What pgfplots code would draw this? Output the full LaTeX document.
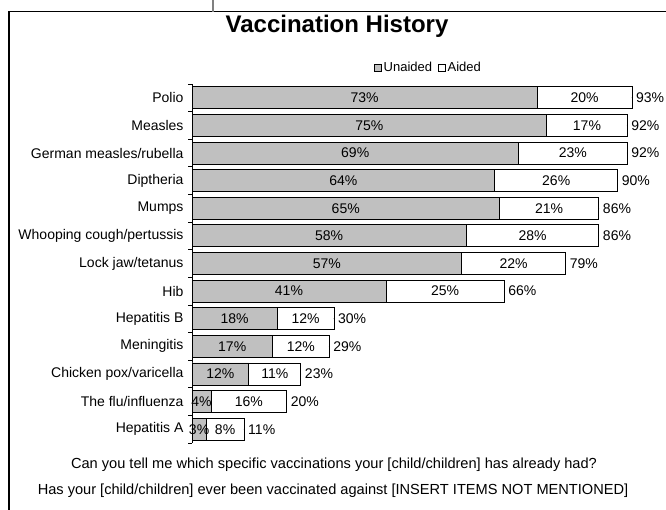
\documentclass[border=0pt]{standalone}
\usepackage{fontspec}
\setmainfont{Liberation Sans}
\usepackage{pgfplots}
\usepackage{pgfplotstable}
\pgfplotsset{compat=1.18}
\definecolor{unaided}{RGB}{192,192,192}
\newcommand{\lbl}{\fontsize{14bp}{16bp}\selectfont}
\pgfplotstableread{
y u a t
0 73 20 93
1 75 17 92
2 69 23 92
3 64 26 90
4 65 21 86
5 58 28 86
6 57 22 79
7 41 25 66
8 18 12 30
9 17 12 29
10 12 11 23
11 4 16 20
12 3 8 11
}\data
\begin{document}
\begin{tikzpicture}[x=1bp,y=1bp]
\path[use as bounding box] (0,0) rectangle (666,510);
\draw[line width=1.2bp] (9,-2) -- (9,498.3) -- (668,498.3);
\draw[line width=1.2bp, gray] (213,498.3) -- (213,511);
\node[font=\fontsize{24bp}{28bp}\selectfont\bfseries] at (337,484) {Vaccination History};
\node[font=\fontsize{14.6bp}{16bp}\selectfont] at (334,45) {Can you tell me which specific vaccinations your [child/children] has already had?};
\node[font=\fontsize{14.6bp}{16bp}\selectfont] at (333,19) {Has your [child/children] ever been vaccinated against [INSERT ITEMS NOT MENTIONED]};
\begin{axis}[
  at={(192bp,67bp)}, anchor=south west, scale only axis,
  width=473bp, height=359bp,
  xmin=0, xmax=100, ymin=-0.5, ymax=12.5, y dir=reverse,
  axis x line=none, axis y line*=left,
  axis line style={black, line width=0.8bp},
  ytick={0,...,12},
  yticklabels={Polio,Measles,German measles/rubella,Diptheria,Mumps,Whooping cough/pertussis,Lock jaw/tetanus,Hib,Hepatitis B,Meningitis,Chicken pox/varicella,The flu/influenza,Hepatitis A},
  yticklabel style={font=\lbl, xshift=-5bp},
  major tick length=0pt,
  minor ytick={-0.5,0.5,...,12.5},
  minor tick length=4bp, tick align=outside,
  minor tick style={black, line width=0.8bp},
  clip=false,
  /pgf/number format/assume math mode=true,
  legend style={at={(axis description cs:0.5,1.045)}, anchor=center, draw=none, fill=none,
    font=\fontsize{13bp}{15bp}\selectfont, legend columns=2, inner sep=0pt,
    /tikz/every even column/.append style={column sep=4bp}},
  legend cell align=left,
  legend image code/.code={\draw[#1, line width=0.6bp] (0bp,-3.5bp) rectangle (7bp,3.5bp);},
]
\addlegendimage{fill=unaided, draw=black}
\addlegendentry{Unaided}
\addlegendimage{fill=white, draw=black}
\addlegendentry{Aided}
\addplot[xbar, bar width=22bp, bar shift=0pt, fill=white, draw=black, line width=0.8bp, forget plot] table[x=t, y=y]{\data};
\addplot[xbar, bar width=22bp, bar shift=0pt, fill=unaided, draw=black, line width=0.8bp, forget plot] table[x=u, y=y]{\data};
\addplot[only marks, mark=*, mark size=0.01pt, mark options={draw=none, fill=none}, forget plot,
  point meta=explicit, nodes near coords={\pgfmathprintnumber{\pgfplotspointmeta}\%},
  every node near coord/.style={anchor=center, font=\lbl, inner sep=0pt}]
  table[x expr=\thisrow{u}/2, y=y, meta=u]{\data};
\addplot[only marks, mark=*, mark size=0.01pt, mark options={draw=none, fill=none}, forget plot,
  point meta=explicit, nodes near coords={\pgfmathprintnumber{\pgfplotspointmeta}\%},
  every node near coord/.style={anchor=center, font=\lbl, inner sep=0pt}]
  table[x expr=\thisrow{u}+\thisrow{a}/2, y=y, meta=a]{\data};
\addplot[only marks, mark=*, mark size=0.01pt, mark options={draw=none, fill=none}, forget plot,
  point meta=explicit, nodes near coords={\pgfmathprintnumber{\pgfplotspointmeta}\%},
  every node near coord/.style={anchor=west, font=\lbl, inner sep=0pt, xshift=4bp}]
  table[x=t, y=y, meta=t]{\data};
\end{axis}
\end{tikzpicture}
\end{document}
